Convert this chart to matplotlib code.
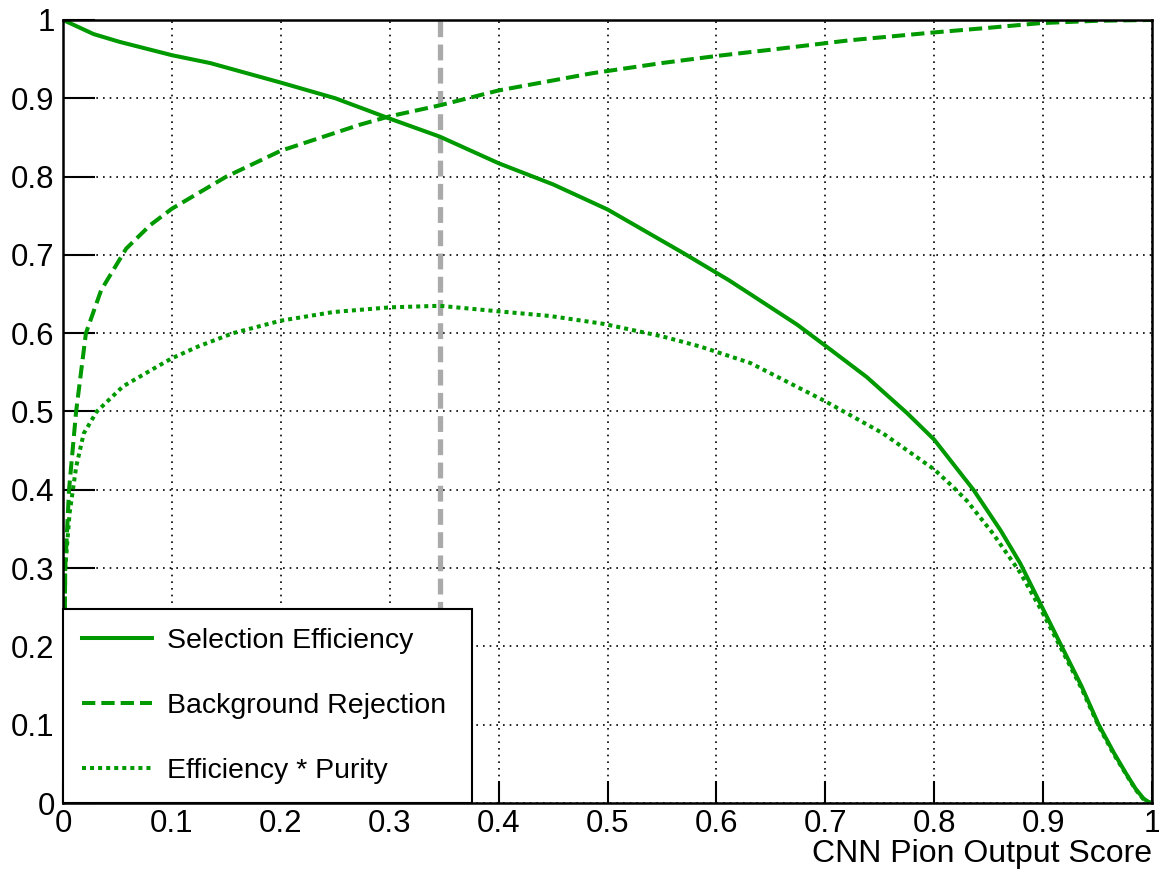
import matplotlib.pyplot as plt

plt.rcParams["font.family"] = ["Liberation Sans", "DejaVu Sans"]

sel_x = [0, 0.028, 0.052, 0.1, 0.135, 0.2, 0.25, 0.3, 0.346, 0.4, 0.45, 0.5,
         0.57, 0.611, 0.631, 0.674, 0.7, 0.738, 0.775, 0.8, 0.836, 0.861,
         0.879, 0.898, 0.917, 0.935, 0.951, 0.965, 0.976, 0.985, 0.992,
         0.997, 1.0]
sel_y = [1.0, 0.982, 0.972, 0.955, 0.945, 0.920, 0.900, 0.874, 0.851, 0.817,
         0.790, 0.758, 0.702, 0.668, 0.650, 0.611, 0.584, 0.544, 0.498, 0.464,
         0.400, 0.348, 0.306, 0.253, 0.200, 0.150, 0.100, 0.064, 0.038, 0.018,
         0.006, 0.001, 0.0]

rej_x = [0, 0.002, 0.0055, 0.012, 0.021, 0.035, 0.058, 0.08, 0.1, 0.15, 0.2,
         0.272, 0.3, 0.346, 0.4, 0.486, 0.55, 0.6, 0.65, 0.722, 0.799, 0.85,
         0.898, 0.95, 1.0]
rej_y = [0.0, 0.3, 0.4, 0.5, 0.6, 0.655, 0.708, 0.738, 0.759, 0.800, 0.833,
         0.866, 0.877, 0.891, 0.910, 0.932, 0.945, 0.954, 0.962, 0.974, 0.984,
         0.990, 0.996, 0.999, 1.0]

pur_x = [0, 0.002, 0.006, 0.012, 0.019, 0.031, 0.055, 0.086, 0.1, 0.124,
         0.156, 0.2, 0.248, 0.3, 0.346, 0.399, 0.447, 0.496, 0.55, 0.585,
         0.631, 0.7, 0.753, 0.8, 0.817, 0.83, 0.854, 0.879, 0.898, 0.917,
         0.935, 0.951, 0.965, 0.976, 0.985, 0.992, 0.997, 1.0]
pur_y = [0.0, 0.3, 0.37, 0.429, 0.472, 0.5, 0.532, 0.557, 0.568, 0.583,
         0.600, 0.616, 0.627, 0.633, 0.635, 0.628, 0.622, 0.612, 0.596, 0.583,
         0.562, 0.513, 0.472, 0.426, 0.404, 0.386, 0.344, 0.294, 0.247, 0.196,
         0.147, 0.098, 0.062, 0.037, 0.017, 0.005, 0.001, 0.0]

best_cut = 0.346
ticks = [0, 0.1, 0.2, 0.3, 0.4, 0.5, 0.6, 0.7, 0.8, 0.9, 1]
tick_labels = ["0", "0.1", "0.2", "0.3", "0.4", "0.5", "0.6", "0.7", "0.8", "0.9", "1"]

green = "#009900"

fig = plt.figure(figsize=(11.59, 8.72), dpi=100)
ax = fig.add_axes([0.0544, 0.0791, 0.9396, 0.898])

ax.plot(sel_x, sel_y, color=green, lw=2.9, label="Selection Efficiency")
ax.plot(rej_x, rej_y, color=green, lw=2.9, dashes=(3.3, 1.5), label="Background Rejection")
ax.plot(pur_x, pur_y, color=green, lw=2.9, dashes=(1, 1), label="Efficiency * Purity")
ax.axvline(best_cut, color="#aaaaaa", lw=3.8, dashes=(3, 1.4), zorder=1)

ax.set_xlim(0, 1)
ax.set_ylim(0, 1)
ax.set_xticks(ticks)
ax.set_xticklabels(tick_labels)
ax.set_yticks(ticks)
ax.set_yticklabels(tick_labels)
ax.grid(True, color="black", lw=1.2, dashes=(1, 3))
ax.set_axisbelow(True)

ax.tick_params(axis="y", direction="in", length=23, width=1.5, labelsize=22.5, pad=6)
ax.tick_params(axis="x", direction="in", length=16, width=1.5, labelsize=22.5, pad=4)
for s in ax.spines.values():
    s.set_linewidth(1.8)

ax.set_xlabel("CNN Pion Output Score", loc="right", fontsize=23, labelpad=0)

leg = ax.legend(loc="lower left", bbox_to_anchor=(0, 0, 0.3756, 0.2503),
                mode="expand", borderaxespad=0, fontsize=20.5, frameon=True,
                fancybox=False, framealpha=1, edgecolor="black",
                handlelength=2.45, handletextpad=0.52, labelspacing=1.36,
                borderpad=0.68)
leg.get_frame().set_linewidth(1.5)
leg.set_zorder(5)

plt.savefig("out.png", dpi=100)
plt.close()
